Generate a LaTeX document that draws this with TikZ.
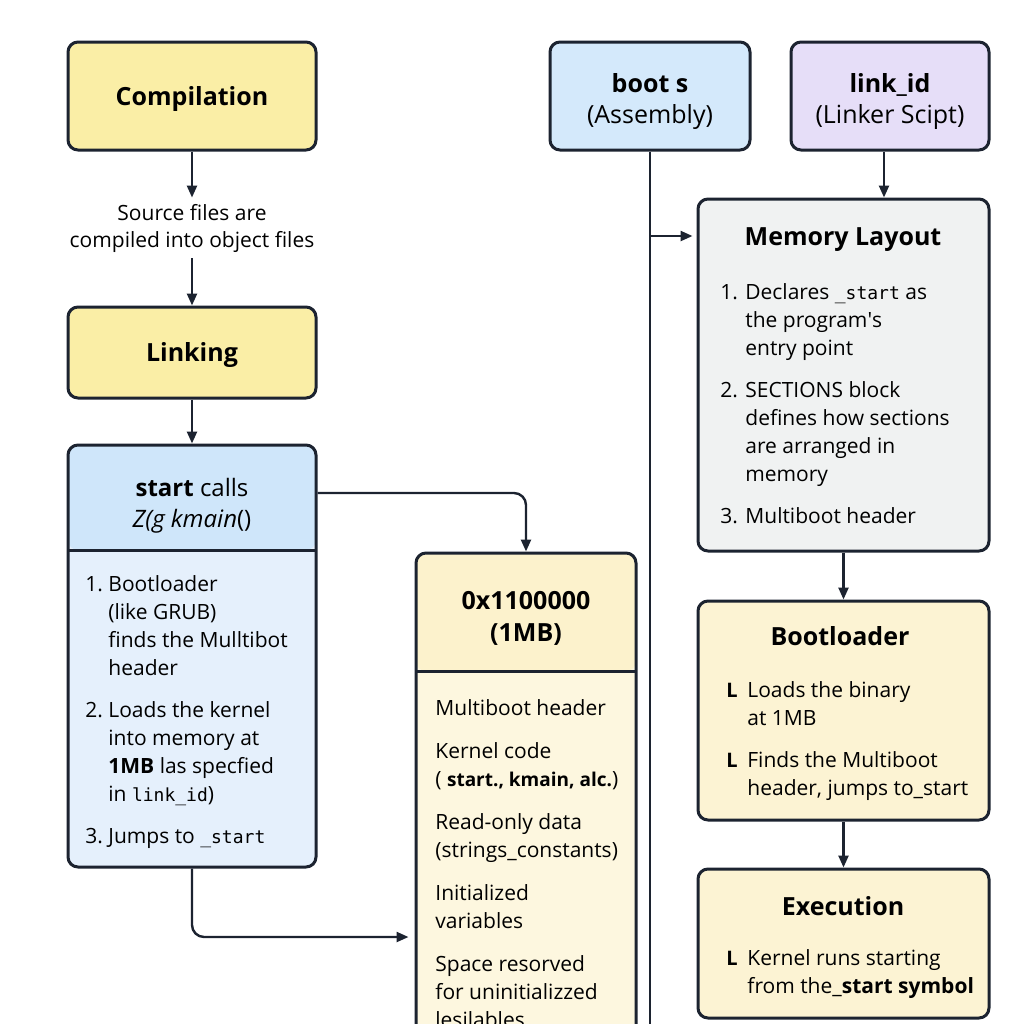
\documentclass[tikz,border=0pt]{standalone}
\usepackage{fontspec}
\setmainfont{Open Sans}
\setmonofont{DejaVu Sans Mono}
\usetikzlibrary{arrows.meta,positioning}

\definecolor{ink}{HTML}{1C2330}
\definecolor{yel}{HTML}{FAEEA6}
\definecolor{bluehead}{HTML}{CFE6FA}
\definecolor{bluebody}{HTML}{E5F0FC}
\definecolor{bluebox}{HTML}{D4E9FB}
\definecolor{lav}{HTML}{E6DEF8}
\definecolor{grey}{HTML}{F0F2F2}
\definecolor{creamhead}{HTML}{FCF2CC}
\definecolor{creambody}{HTML}{FDF7DF}
\definecolor{cream}{HTML}{FCF3D3}

\newcommand{\lst}[2]{\begin{tabular}[t]{@{}p{#1}@{}l@{}}#2\end{tabular}}
\newcommand{\tts}[1]{{\fontsize{9}{14}\selectfont\ttfamily #1}}
\newcommand{\hk}{{\fontsize{10}{14}\selectfont\bfseries L}}

\tikzset{
  box/.style={draw=ink, line width=1.5pt, rounded corners=5pt, inner sep=0pt},
  head/.style n args={2}{path picture={
    \fill[#1] (path picture bounding box.north west) rectangle ([yshift=-#2]path picture bounding box.north east);
    \draw[ink,line width=1.5pt] ([yshift=-#2]path picture bounding box.north west) -- ([yshift=-#2]path picture bounding box.north east);}},
  arr/.style={draw=ink, line width=1.2pt, -{Triangle[length=6pt,width=5pt]}},
  ttl/.style={font=\fontsize{12.5}{15.5}\selectfont\bfseries, align=center, text height=9pt, text depth=0pt},
  txt/.style={font=\fontsize{10.5}{14}\selectfont, inner sep=0pt, anchor=base west},
}

\begin{document}
\begin{tikzpicture}[x=0.5pt,y=-0.5pt]
  \useasboundingbox (0,0) rectangle (1024,1024);
  \clip (0,0) rectangle (1024,1024);

  % helper rows
  \coordinate (hirow) at (0,493);
  \coordinate (lowrow) at (0,937);
  \coordinate (tap) at (0,236);
  \coordinate (bot) at (0,1030);

  % left column
  \node[box, fill=yel, minimum width=124pt, minimum height=54pt] (comp) at (192,96) {};
  \node[ttl] (comphd) at (192,96) {Compilation};
  \node[font=\fontsize{10.5}{13.5}\selectfont, align=center, inner sep=3pt] (src) at (192,228) {Source files are\\compiled into object files};
  \node[box, fill=yel, minimum width=124pt, minimum height=45.5pt] (lnk) at (192,352.5) {};
  \node[ttl] (lnkhd) at (192,352) {Linking};
  \node[box, fill=bluebody, head={bluehead}{52.5pt}, minimum width=124pt, minimum height=211pt] (start) at (192,656) {};
  \node[font=\fontsize{12}{15.5}\selectfont, align=center] (starthd) at (192,506) {\textbf{start} calls\\\textit{Z(g kmain}()};
  \node[txt] (startlst) at (85,591) {\lst{11.5pt}{
    1. & Bootloader\\
       & (like GRUB)\\
       & finds the Mulltibot\\
       & header\\[7pt]
    2. & Loads the kernel\\
       & into memory at\\
       & \textbf{1MB} las specfied\\
       & in \tts{link\_id})\\[7pt]
    3. & Jumps to \tts{\_start}}};

  % memory map
  \node[box, fill=creambody, head={creamhead}{59pt}, minimum width=110pt, minimum height=243.5pt] (mem) at (526,796.5) {};
  \node[font=\fontsize{12.5}{16}\selectfont\bfseries, align=center] (memhd) at (526,618) {0x1100000\\(1MB)};
  \node[txt] (memlst) at (435,715) {\begin{tabular}[t]{@{}l@{}}
    Multiboot header\\[7.5pt]
    Kernel code\\
    ( {\fontsize{9.5}{14}\selectfont\bfseries start., kmain, alc.})\\[7.5pt]
    Read-only data\\
    (strings\_constants)\\[7.5pt]
    Initialized\\
    variables\\[7.5pt]
    Space resorved\\
    for uninitializzed\\
    lesilables\end{tabular}};

  % sources
  \node[box, fill=bluebox, minimum width=100pt, minimum height=54pt] (boots) at (650,96) {};
  \node[font=\fontsize{12.5}{15.5}\selectfont, align=center] (bootshd) at (650,101) {\textbf{boot s}\\(Assembly)};
  \node[box, fill=lav, minimum width=99pt, minimum height=54pt] (linkid) at (890,96) {};
  \node[font=\fontsize{12.5}{15.5}\selectfont, align=center] (linkidhd) at (890,101) {\textbf{link\_id}\\(Linker Scipt)};

  % right column
  \node[box, fill=grey, minimum width=145.5pt, minimum height=176pt] (layout) at (843.5,375) {};
  \node[ttl] (layouthd) at (843,236) {Memory Layout};
  \node[txt] (layoutlst) at (720,299) {\lst{12.5pt}{
    1. & Declares \tts{\_start} as\\
       & the program\textquotesingle s\\
       & entry point\\[7pt]
    2. & SECTIONS block\\
       & defines how sections\\
       & are arranged in\\
       & memory\\[7pt]
    3. & Multiboot header}};

  \node[box, fill=cream, minimum width=145.5pt, minimum height=109.5pt] (bootl) at (843.5,710.5) {};
  \node[ttl] (bootlhd) at (840,636) {Bootloader};
  \node[txt] (bootllst) at (726,697) {\lst{10.5pt}{
    \hk & Loads the binary\\
        & at 1MB\\[7pt]
    \hk & Finds the Multiboot\\
        & header, jumps to\_start}};

  \node[box, fill=cream, minimum width=145.5pt, minimum height=74.5pt] (exec) at (843.5,943.5) {};
  \node[ttl] (exechd) at (843,906) {Execution};
  \node[txt] (execlst) at (726,965) {\lst{10.5pt}{
    \hk & Kernel runs starting\\
        & from the\_\textbf{start symbol}}};

  % connectors
  \draw[arr] (comp) -- (src);
  \draw[arr] (src) -- (lnk);
  \draw[arr] (lnk) -- (start);
  \draw[arr, rounded corners=6pt] (start.east |- hirow) -| (mem.north);
  \draw[arr, rounded corners=6pt] (start.south) |- ([xshift=-3pt]mem.west |- lowrow);
  \draw[draw=ink, line width=1.2pt] (boots.south) -- (boots.south |- bot);
  \draw[arr] (boots.south |- tap) -- ([xshift=-2pt]layout.west |- tap);
  \draw[arr] ([xshift=-3pt]linkid.south) -- ([xshift=-3pt]linkid.south |- layout.north);
  \draw[arr] (layout) -- (bootl);
  \draw[arr] (bootl) -- (exec);
\end{tikzpicture}
\end{document}
